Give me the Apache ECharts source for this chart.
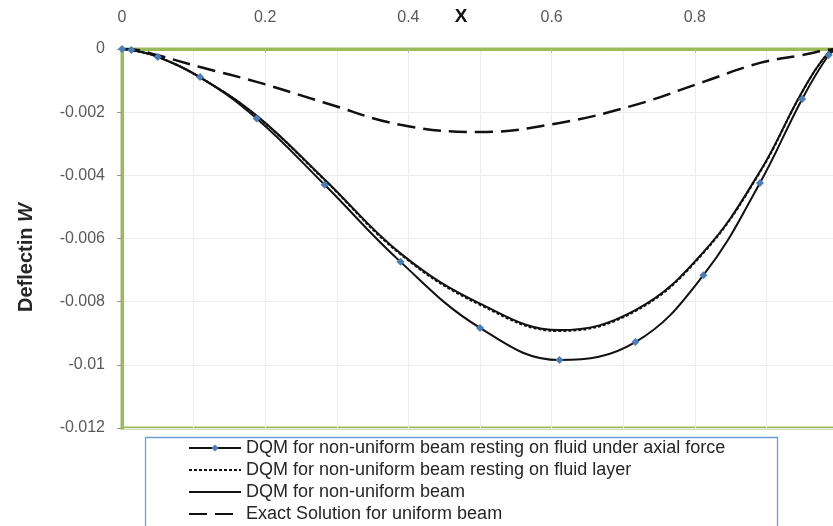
<!DOCTYPE html>
<html>
<head>
<meta charset="utf-8">
<script src="https://cdn.jsdelivr.net/npm/echarts@6/dist/echarts.min.js"></script>
<style>
  html, body { margin: 0; padding: 0; background: #fff; }
  #chart { width: 833px; height: 526px; }
</style>
</head>
<body>
<div id="chart"></div>
<script>
// x positions of the nodes
const xNodes = [0, 0.013, 0.05, 0.109, 0.188, 0.283, 0.389, 0.5, 0.611, 0.717, 0.812, 0.891, 0.95, 0.987, 1]
// deflection values
const axialForce = [0, -0.00003, -0.00025, -0.00089, -0.0022, -0.0043, -0.00674, -0.00883, -0.00985, -0.00928, -0.00716, -0.00424, -0.00158, -0.00019, 0]
const fluidLayer = [0, -0.00003, -0.00025, -0.0009, -0.00212, -0.00415, -0.0065, -0.0081, -0.00893, -0.0083, -0.00646, -0.0039, -0.00136, -0.0001, 0]
const nonUniform = [0, -0.00003, -0.00025, -0.0009, -0.00211, -0.00413, -0.00647, -0.00806, -0.0089, -0.00827, -0.00643, -0.00388, -0.00135, -0.0001, 0]
const exactUniform = [0, -0.00001, -0.0002, -0.00057, -0.00104, -0.0017, -0.0024, -0.00263, -0.00234, -0.00177, -0.00104, -0.00044, -0.00019, -0.00002, 0]

const seriesNames = [
  'DQM for non-uniform beam resting on fluid under axial force',
  'DQM for non-uniform beam resting on fluid layer',
  'DQM for non-uniform beam',
  'Exact Solution for uniform beam',
]

const pairs = (ys) => xNodes.map((x, i) => [x, ys[i]])

const font = 'Liberation Sans, Arial, sans-serif'
const green = '#9bbb59'

// plain black curve, no markers (transparent symbol keeps the legend icon a bare line)
const curve = (name, ys, lineType, width, z) => ({
  name,
  type: 'line',
  smooth: 0.4,
  symbol: 'circle',
  showSymbol: false,
  lineStyle: { color: '#111', width, type: lineType },
  itemStyle: { color: 'transparent', borderColor: 'transparent' },
  data: pairs(ys),
  z,
})

const myChart = echarts.init(document.getElementById('chart'))
myChart.setOption({
  animation: false,
  grid: {
    left: 122,
    right: -5,
    top: 49,
    bottom: 98,
    outerBoundsMode: 'none',
    containLabel: false,
    show: true,
    borderColor: green,
    borderWidth: 3,
  },
  graphic: [
    {
      type: 'rect',
      left: 143,
      top: 435,
      shape: { width: 632, height: 100 },
      style: { fill: 'none', stroke: '#6f9fd8', lineWidth: 1.3 },
      silent: true,
    },
  ],
  legend: {
    orient: 'vertical',
    left: 188,
    top: 439,
    padding: 0,
    itemGap: 4,
    itemWidth: 52,
    itemHeight: 9,
    textStyle: { fontFamily: font, fontSize: 18, color: '#262626' },
    data: seriesNames,
  },
  xAxis: {
    type: 'value',
    position: 'top',
    min: 0,
    max: 1,
    interval: 0.2,
    name: 'X',
    nameLocation: 'middle',
    nameGap: 23,
    nameMoveOverlap: false,
    nameTextStyle: {
      fontFamily: font,
      fontSize: 19,
      fontWeight: 'bold',
      color: '#111',
      padding: [0, 38, 0, 0],
    },
    axisLine: { show: true, lineStyle: { color: green, width: 3 } },
    axisTick: { show: true, inside: true, length: 4, lineStyle: { color: '#bbb' } },
    axisLabel: { margin: 23, fontFamily: font, fontSize: 16, color: '#595959' },
    splitLine: { show: true, lineStyle: { color: '#ececec' } },
    minorTick: { show: false, splitNumber: 2 },
    minorSplitLine: { show: true, lineStyle: { color: '#ececec' } },
  },
  yAxis: {
    type: 'value',
    min: -0.012,
    max: 0,
    interval: 0.002,
    name: '{b|Deflectin }{i|W}',
    nameLocation: 'middle',
    nameGap: 86,
    nameMoveOverlap: false,
    nameTextStyle: {
      padding: [0, 38, 0, 0],
      rich: {
        b: { fontFamily: font, fontSize: 20, fontWeight: 'bold', color: '#262626' },
        i: { fontFamily: font, fontSize: 20, fontWeight: 'bold', fontStyle: 'italic', color: '#262626' },
      },
    },
    axisLine: { show: true, lineStyle: { color: green, width: 3 } },
    axisTick: { show: true, length: 5, lineStyle: { color: '#999' } },
    axisLabel: { margin: 17, fontFamily: font, fontSize: 16, color: '#595959' },
    splitLine: { show: true, lineStyle: { color: '#ececec' } },
  },
  series: [
    {
      name: seriesNames[0],
      type: 'line',
      smooth: 0.4,
      symbol: 'diamond',
      symbolSize: 8,
      showAllSymbol: true,
      lineStyle: { color: '#111', width: 2 },
      itemStyle: { color: '#4a7ebb' },
      data: pairs(axialForce),
      z: 5,
    },
    curve(seriesNames[1], fluidLayer, [3, 2], 2, 4),
    curve(seriesNames[2], nonUniform, 'solid', 2, 3),
    curve(seriesNames[3], exactUniform, [18, 8], 2.5, 2),
  ],
})
</script>
</body>
</html>
